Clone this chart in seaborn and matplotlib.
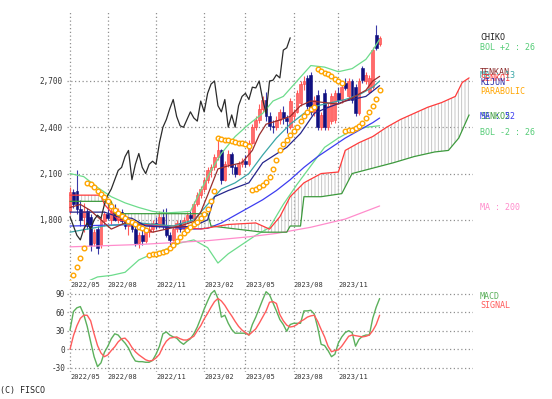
import numpy as np
import matplotlib
matplotlib.use('Agg')
import matplotlib.pyplot as plt
import seaborn as sns

sns.set_style('white')
plt.rcParams['font.family'] = ['DejaVu Sans Mono']
plt.rcParams['hatch.linewidth'] = 0.6

# ---- weekly candles (week 0 = first week of 2022/05) ----
opens = [1860, 1980, 1990, 1870, 1820, 1860, 1820, 1650, 1740, 1640,
         1790, 1840, 1800, 1860, 1800, 1850, 1790, 1760, 1780, 1740,
         1650, 1700, 1660, 1720, 1740, 1780, 1760, 1820, 1760, 1700,
         1670, 1740, 1780, 1740, 1800, 1830, 1810, 1900, 1960, 2000,
         2060, 2120, 2140, 2210, 2250, 2060, 2160, 2230, 2140, 2100,
         2160, 2180, 2160, 2300, 2400, 2450, 2520, 2580, 2470, 2410,
         2400, 2450, 2500, 2460, 2400, 2470, 2500, 2560, 2680, 2720,
         2740, 2500, 2610, 2400, 2620, 2400, 2440, 2450, 2620, 2580,
         2690, 2600, 2700, 2660, 2490, 2785, 2700, 2630, 2660, 3000, 2940]
highs = [2010, 2000, 2120, 1930, 1910, 1880, 1840, 1740, 1760, 1820,
         1860, 1930, 1880, 1900, 1880, 1870, 1840, 1800, 1800, 1760,
         1720, 1740, 1730, 1760, 1800, 1820, 1860, 1870, 1880, 1720,
         1760, 1800, 1800, 1820, 1850, 1860, 1920, 1980, 2020, 2080,
         2140, 2160, 2230, 2330, 2260, 2180, 2250, 2240, 2160, 2180,
         2200, 2220, 2320, 2420, 2470, 2550, 2600, 2630, 2500, 2450,
         2470, 2520, 2540, 2480, 2590, 2520, 2640, 2700, 2730, 2740,
         2760, 2600, 2640, 2500, 2650, 2560, 2620, 2640, 2660, 2680,
         2720, 2720, 2710, 2680, 2720, 2800, 2760, 2740, 2920, 3060, 2990]
lows = [1840, 1880, 1840, 1760, 1720, 1740, 1600, 1630, 1580, 1620,
        1760, 1800, 1770, 1790, 1780, 1770, 1740, 1700, 1720, 1630,
        1620, 1640, 1650, 1690, 1720, 1740, 1750, 1740, 1690, 1640,
        1660, 1720, 1720, 1730, 1780, 1790, 1800, 1890, 1940, 1980,
        2040, 2080, 2120, 2190, 2030, 2050, 2140, 2100, 2080, 2090,
        2140, 2140, 2150, 2290, 2380, 2430, 2500, 2440, 2380, 2360,
        2380, 2420, 2420, 2360, 2390, 2440, 2490, 2540, 2640, 2520,
        2480, 2470, 2380, 2380, 2380, 2380, 2420, 2430, 2560, 2560,
        2640, 2580, 2560, 2470, 2480, 2690, 2680, 2620, 2650, 2900, 2930]
closes = [1980, 1900, 1870, 1800, 1860, 1760, 1640, 1720, 1620, 1800,
          1840, 1810, 1860, 1800, 1850, 1790, 1760, 1780, 1740, 1650,
          1700, 1660, 1720, 1740, 1780, 1760, 1820, 1760, 1700, 1670,
          1740, 1780, 1740, 1800, 1830, 1810, 1900, 1960, 2000, 2060,
          2120, 2140, 2210, 2250, 2060, 2160, 2230, 2140, 2100, 2160,
          2180, 2160, 2300, 2400, 2450, 2520, 2580, 2470, 2410, 2400,
          2450, 2500, 2460, 2440, 2570, 2500, 2620, 2680, 2700, 2540,
          2500, 2580, 2400, 2480, 2400, 2540, 2600, 2620, 2580, 2660,
          2655, 2700, 2580, 2490, 2700, 2705, 2740, 2720, 2900, 2915, 2980]

# ---- indicator lines (week, value) ----
bol_up_wk = [0, 4, 8, 12, 16, 20, 24, 28, 32, 35, 38, 41, 44, 48, 52, 56, 59, 62, 66, 70, 74, 78, 82, 86, 88, 90]
bol_up = [2100, 2080, 2010, 1950, 1910, 1880, 1855, 1845, 1850, 1855, 1990, 2120, 2230, 2340, 2420,
          2490, 2570, 2600, 2700, 2800, 2790, 2760, 2780, 2840, 2900, 2970]
bol_lo_wk = [0, 4, 8, 12, 16, 20, 24, 28, 32, 36, 40, 43, 46, 50, 54, 58, 62, 66, 70, 74, 78, 82, 86, 90]
bol_lo = [1330, 1390, 1430, 1440, 1460, 1540, 1580, 1610, 1650, 1670, 1620, 1520, 1580, 1640,
          1700, 1750, 1900, 2030, 2150, 2270, 2330, 2380, 2400, 2410]

tenkan_wk = [0, 3, 6, 9, 12, 16, 20, 24, 28, 32, 36, 38, 40, 43, 46, 50, 53, 55, 57, 60, 64, 67, 70,
             74, 78, 82, 86, 88, 90]
tenkan = [1880, 1900, 1860, 1800, 1740, 1780, 1770, 1720, 1740, 1760, 1790, 1850, 1960, 2130, 2150,
          2170, 2250, 2350, 2420, 2440, 2470, 2540, 2570, 2560, 2550, 2590, 2640, 2700, 2730]
kijun_wk = [0, 10, 14, 18, 22, 30, 36, 40, 42, 46, 52, 56, 63, 67, 71, 74, 80, 86, 90]
kijun = [1850, 1850, 1820, 1810, 1760, 1750, 1760, 1800, 1950, 1990, 2040, 2170, 2270, 2360, 2490,
         2520, 2570, 2600, 2670]
ma13_wk = [0, 10, 20, 30, 36, 40, 44, 48, 52, 56, 60, 64, 68, 72, 76, 80, 84, 88, 90]
ma13 = [1720, 1760, 1780, 1760, 1800, 1900, 2000, 2040, 2100, 2220, 2330, 2420, 2490, 2540, 2560,
        2580, 2610, 2660, 2700]
ma52_wk = [0, 10, 20, 30, 36, 40, 44, 48, 52, 56, 60, 64, 68, 72, 76, 80, 84, 88, 90]
ma52 = [1760, 1765, 1770, 1750, 1740, 1745, 1780, 1830, 1880, 1930, 1990, 2060, 2140, 2210, 2270,
        2330, 2380, 2430, 2460]
ma200_wk = [0, 20, 40, 52, 60, 70, 80, 90]
ma200 = [1625, 1640, 1665, 1690, 1712, 1752, 1805, 1890]

senko1_wk = [0, 9, 10, 14, 22, 30, 38, 46, 54, 58, 61, 64, 68, 73, 78, 80, 84, 88, 92, 96, 100, 104,
             108, 112, 114, 116]
senko1 = [1960, 1960, 1900, 1800, 1770, 1760, 1740, 1770, 1780, 1740, 1820, 1950, 2040, 2100, 2110,
          2250, 2300, 2340, 2400, 2450, 2490, 2530, 2560, 2600, 2690, 2720]
senko2_wk = [0, 12, 13, 40, 41, 56, 63, 64, 67, 68, 73, 79, 82, 94, 100, 106, 110, 113, 116]
senko2 = [1920, 1920, 1840, 1840, 1760, 1720, 1720, 1760, 1760, 1950, 1950, 1970, 2100, 2170, 2210,
          2240, 2250, 2330, 2480]

parabolic = [1390, 1443, 1495, 1555, 1615, 2040, 2030, 2010, 1990, 1970,
             1945, 1920, 1890, 1865, 1845, 1825, 1810, 1795, 1785, 1770,
             1755, 1745, 1735, 1575, 1578, 1581, 1585, 1590, 1600, 1615,
             1640, 1665, 1690, 1712, 1734, 1755, 1770, 1785, 1810, 1840,
             1870, 1920, 1990, 2330, 2325, 2320, 2315, 2310, 2305, 2300,
             2295, 2290, 2280, 1995, 2000, 2010, 2025, 2045, 2080, 2130,
             2190, 2250, 2290, 2320, 2350, 2375, 2400, 2440, 2470, 2500,
             2520, 2530, 2775, 2765, 2755, 2745, 2730, 2715, 2700, 2690,
             2375, 2380, 2385, 2395, 2410, 2430, 2460, 2500, 2540, 2585, 2640]

macd = [31, 61, 67, 69, 56, 37, 12, -12, -28, -22, -5, 5, 17, 25, 23, 16, 10, 2, -10, -19,
        -20, -20, -21, -21, -18, -8, 5, 25, 28, 23, 20, 18, 12, 8, 13, 17, 25, 36, 50, 65,
        78, 90, 95, 82, 52, 55, 42, 32, 26, 26, 26, 26, 23, 40, 52, 66, 80, 93, 88, 75,
        62, 48, 40, 29, 40, 42, 42, 42, 62, 62, 63, 57, 35, 8, 6, -2, -12, -8, 10, 20,
        27, 30, 27, 5, 16, 21, 23, 23, 50, 68, 82]
signal = [0, 22, 38, 50, 55, 55, 46, 25, 6, -6, -12, -9, -2, 4, 12, 17, 18, 12, 3, -4,
          -9, -13, -17, -19, -18, -14, -8, 4, 13, 18, 19, 20, 17, 15, 15, 18, 21, 30, 38, 49,
          58, 68, 77, 82, 78, 71, 62, 54, 45, 37, 31, 27, 23, 28, 33, 42, 52, 62, 76, 77,
          74, 56, 46, 39, 36, 37, 40, 45, 48, 52, 54, 55, 45, 32, 20, 5, -4, -2, -1, 5,
          13, 21, 23, 22, 21, 20, 21, 23, 30, 40, 55]

month_wk = [0, 11, 25, 39, 51, 65, 78]
month_lbl = ['2022/05', '2022/08', '2022/11', '2023/02', '2023/05', '2023/08', '2023/11']
price_ticks = [1800, 2100, 2400, 2700]
price_lbl = ['1,800', '2,100', '2,400', '2,700']
macd_ticks = [-30, 0, 30, 60, 90]

weeks = np.arange(len(closes))
o = np.array(opens); c = np.array(closes); h = np.array(highs); l = np.array(lows)

fig = plt.figure(figsize=(5.52, 3.99), dpi=100)
ax = fig.add_axes([0.1206, 0.2982, 0.7354, 0.6767])
ax2 = fig.add_axes([0.1206, 0.0677, 0.7354, 0.2080])

grid_kw = dict(color='#909090', linestyle=(0, (1, 2)), linewidth=0.9)
for a in (ax, ax2):
    a.set_xlim(-1, 117)
    a.set_axisbelow(True)
    a.grid(True, **grid_kw)
    for s in a.spines.values():
        s.set_visible(False)
    a.set_xticks(month_wk)
    a.set_xticklabels(month_lbl, fontsize=5, ha='left', color='#333333')
    a.tick_params(axis='both', length=0)
    a.tick_params(axis='x', pad=1.5)

# ---- main panel ----
ax.set_ylim(1410, 3160)
ax.set_yticks(price_ticks)
ax.set_yticklabels(price_lbl, fontsize=5.5, color='#333333')
ax.tick_params(axis='y', pad=3)

# ichimoku cloud hatching
cw = np.arange(0, 117)
s1 = np.interp(cw, senko1_wk, senko1)
s2 = np.interp(cw, senko2_wk, senko2)
ax.fill_between(cw, s1, s2, facecolor='none', edgecolor='#bdbdbd', hatch='|||||', linewidth=0, zorder=1)

# candles
up = c >= o
ax.vlines(weeks[up], l[up], h[up], color='#ff5a5a', linewidth=0.8, zorder=2)
ax.vlines(weeks[~up], l[~up], h[~up], color='#3a3aa8', linewidth=0.8, zorder=2)
ax.bar(weeks[up], (c - o)[up], bottom=o[up], width=0.8, color='#ff6b6b', edgecolor='#ff4040',
       linewidth=0.4, zorder=2)
ax.bar(weeks[~up], (o - c)[~up], bottom=c[~up], width=0.8, color='#101080', edgecolor='#101080',
       linewidth=0.4, zorder=2)

line_specs = [
    (bol_up_wk, bol_up, '#6ddc8c', 0.9),
    (bol_lo_wk, bol_lo, '#6ddc8c', 0.9),
    (ma200_wk, ma200, '#ff8ccc', 0.9),
    (ma52_wk, ma52, '#3d3df0', 0.9),
    (senko2_wk, senko2, '#3d9a3d', 0.9),
    (senko1_wk, senko1, '#ff3b3b', 0.9),
    (ma13_wk, ma13, '#3aa6a6', 0.9),
    (kijun_wk, kijun, '#26268c', 0.9),
    (tenkan_wk, tenkan, '#9a2e2e', 0.9),
]
for wk, vals, col, lw in line_specs:
    sns.lineplot(x=wk, y=vals, ax=ax, color=col, linewidth=lw, estimator=None, sort=False, zorder=3)

# chiko span: closes shifted back 26 weeks
sns.lineplot(x=weeks[26:] - 26, y=c[26:], ax=ax, color='#2b2b2b', linewidth=0.9,
             estimator=None, sort=False, zorder=3)

sns.scatterplot(x=weeks, y=parabolic, ax=ax, marker='o', s=11, facecolor='white',
                edgecolor='#ffa500', linewidth=1.0, zorder=4)

ax.set_xlabel('')
ax.set_ylabel('')

lx = 119.2
labels_main = [
    ('CHIKO', 2979, '#222222'),
    ('BOL +2 : 26', 2920, '#55cc77'),
    ('TENKAN', 2752, '#8b2a2a'),
    ('MA : 13', 2735, '#3aa6a6'),
    ('SENKO1', 2719, '#ff3b3b'),
    ('KIJUN', 2690, '#3030a8'),
    ('PARABOLIC', 2635, '#ffa500'),
    ('SENKO2', 2467, '#3d9a3d'),
    ('MA : 52', 2467, '#3d3df0'),
    ('BOL -2 : 26', 2363, '#55cc77'),
    ('MA : 200', 1883, '#ff8ccc'),
]
for txt, yv, col in labels_main:
    ax.text(lx, yv, txt, fontsize=6, color=col, va='center', ha='left', clip_on=False)

# ---- MACD panel ----
ax2.set_ylim(-36.7, 97.4)
ax2.set_yticks(macd_ticks)
ax2.set_yticklabels([str(t) for t in macd_ticks], fontsize=5.5, color='#333333')
ax2.tick_params(axis='y', pad=1)
sns.lineplot(x=weeks, y=macd, ax=ax2, color='#5cb05c', linewidth=1.0, estimator=None, sort=False)
sns.lineplot(x=weeks, y=signal, ax=ax2, color='#ff5c5c', linewidth=1.0, estimator=None, sort=False)
ax2.set_xlabel('')
ax2.set_ylabel('')
ax2.text(lx, 86, 'MACD', fontsize=6, color='#5cb05c', va='center', ha='left', clip_on=False)
ax2.text(lx, 70, 'SIGNAL', fontsize=6, color='#ff5c5c', va='center', ha='left', clip_on=False)

fig.text(0.0, 1 - 390 / 399, '(C) FISCO', fontsize=6, color='#222222', va='center', ha='left')

fig.savefig('out.png', dpi=100)
